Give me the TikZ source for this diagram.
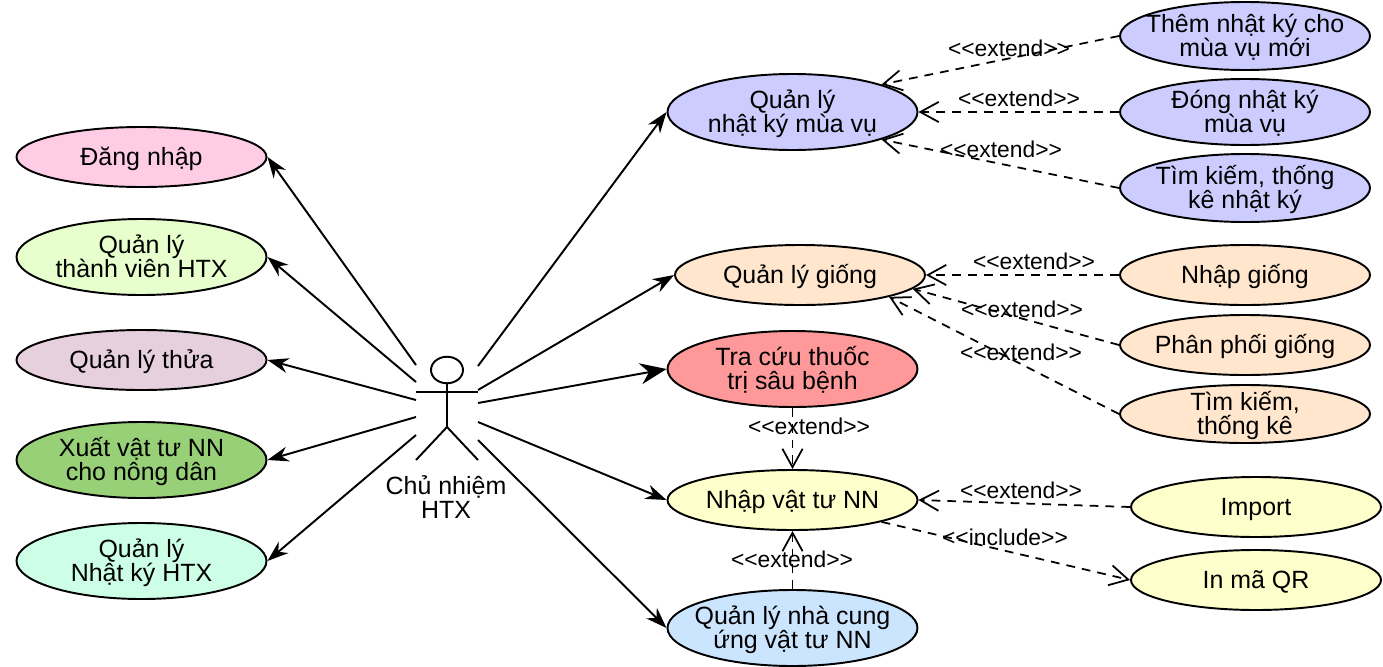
\documentclass[tikz,border=0pt]{standalone}
\usepackage{fontspec}
\setmainfont{Liberation Sans}
\usepackage{xcolor}
\usetikzlibrary{calc,positioning,arrows.meta,shapes.geometric}
\definecolor{mypink}{RGB}{255,204,230}
\definecolor{mylime}{RGB}{230,255,204}
\definecolor{mymauve}{RGB}{230,208,222}
\definecolor{mygreen}{RGB}{151,208,119}
\definecolor{mymint}{RGB}{204,255,230}
\definecolor{myviolet}{RGB}{204,204,255}
\definecolor{mypeach}{RGB}{255,230,204}
\definecolor{myred}{RGB}{255,153,153}
\definecolor{myyellow}{RGB}{255,255,204}
\definecolor{myblue}{RGB}{204,229,255}
\newcommand{\ext}{<{}<{}extend>{}>}
\tikzset{
  uc/.style={draw, ellipse, line width=1.1pt, inner xsep=-20pt, inner ysep=-15pt, minimum width=5cm, minimum height=1.2cm, align=center, font=\fontsize{14.2}{13.7}\selectfont, text depth=0.8pt},
  ucone/.style={uc, text height=12.8pt, text depth=3pt},
  uctall/.style={uc, minimum height=1.52cm},
  assoc/.style={line width=1.1pt, -{Stealth[length=12pt,width=8.5pt]}},
  dep/.style={dashed, dash pattern=on 5pt off 4pt, line width=1pt, -{Straight Barb[length=10.5pt,width=11.5pt,line width=1pt]}},
  stereo/.style={font=\fontsize{13}{15}\selectfont, inner sep=0pt}
}
\begin{document}
\begin{tikzpicture}[x=0.2mm,y=-0.2mm]
  \useasboundingbox (0,0) rectangle (1383,666);

  % left column
  \node[ucone, fill=mypink] (dangnhap) at (141.5,157) {Đăng nhập};
  \node[uctall, fill=mylime] (thanhvien) at (141.5,257) {Quản lý\\thành viên HTX};
  \node[ucone, fill=mymauve] (thua) at (141.5,360) {Quản lý thửa};
  \node[uctall, fill=mygreen] (xuatvt) at (141.5,460) {Xuất vật tư NN\\cho nông dân};
  \node[uctall, fill=mymint] (nhatkyhtx) at (141.5,561) {Quản lý\\Nhật ký HTX};

  % middle column
  \node[uctall, fill=myviolet] (muavu) at (792.5,112) {Quản lý\\nhật ký mùa vụ};
  \node[ucone, fill=mypeach] (giong) at (800,275) {Quản lý giống};
  \node[uctall, fill=myred] (tracuu) at (792.5,369) {Tra cứu thuốc\\trị sâu bệnh};
  \node[ucone, fill=myyellow] (nhapvt) at (792.5,500) {Nhập vật tư NN};
  \node[uctall, fill=myblue] (nhacc) at (792.5,628) {Quản lý nhà cung\\ứng vật tư NN};

  % right column
  \node[uc, minimum height=1.36cm, fill=myviolet] (themnk) at (1245,36) {Thêm nhật ký cho\\mùa vụ mới};
  \node[uc, minimum height=1.32cm, fill=myviolet] (dongnk) at (1245,112) {Đóng nhật ký\\mùa vụ};
  \node[uc, minimum height=1.36cm, fill=myviolet] (timnk) at (1245,188) {Tìm kiếm, thống\\kê nhật ký};
  \node[ucone, fill=mypeach] (nhapgiong) at (1245,275) {Nhập giống};
  \node[ucone, fill=mypeach] (phanphoi) at (1245,345) {Phân phối giống};
  \node[uc, minimum height=1.16cm, fill=mypeach] (timgiong) at (1245,414) {Tìm kiếm,\\thống kê};
  \node[ucone, fill=myyellow] (import) at (1256,507) {Import};
  \node[ucone, fill=myyellow] (inqr) at (1256,580) {In mã QR};

  % actor
  \node[draw, ellipse, line width=1.1pt, inner sep=0pt, minimum width=0.64cm, minimum height=0.53cm] (head) at (447,370) {};
  \coordinate (hip) at (447,427);
  \coordinate (armL) at (416,392);
  \coordinate (armR) at (478,392);
  \coordinate (footL) at (416,460);
  \coordinate (footR) at (478,460);
  \draw[line width=1.1pt] (head.south) -- (hip);
  \draw[line width=1.1pt] (armL) -- (armR);
  \draw[line width=1.1pt] (footL) -- (hip) -- (footR);
  \node[align=center, font=\fontsize{14.2}{13.7}\selectfont] (chunhiem) at (446,497) {Chủ nhiệm\\HTX};

  % free ends beside the actor
  \coordinate (l1) at (416,365);
  \coordinate (l2) at (416,382);
  \coordinate (l3) at (416,400);
  \coordinate (l4) at (416,417);
  \coordinate (l5) at (416,435);
  \coordinate (r1) at (478,366);
  \coordinate (r2) at (478,390);
  \coordinate (r3) at (478,403);
  \coordinate (r4) at (478,422);
  \coordinate (r5) at (478,440);

  \draw[assoc] (l1) -- (dangnhap.east);
  \draw[assoc] (l2) -- (thanhvien.east);
  \draw[assoc] (l3) -- (thua.east);
  \draw[assoc] (l4) -- (xuatvt.east);
  \draw[assoc] (l5) -- (nhatkyhtx.east);
  \draw[assoc] (r1) -- (muavu.west);
  \draw[assoc] (r2) -- (giong.west);
  \draw[assoc, -{Stealth[length=15pt,width=12pt]}] (r3) -- (tracuu.west);
  \draw[assoc] (r4) -- (nhapvt.west);
  \draw[assoc] (r5) -- (nhacc.west);

  % extend and include
  \draw[dep] (themnk.west) -- (muavu.north east);
  \draw[dep] (dongnk.west) -- (muavu.east);
  \draw[dep] (timnk.west) -- (muavu.south east);
  \draw[dep] (nhapgiong.west) -- (giong.east);
  \draw[dep] (phanphoi.west) -- (giong.-7);
  \draw[dep] (timgiong.west) -- (giong.south east);
  \draw[dep] (tracuu.south) -- (nhapvt.north);
  \draw[dep] (nhacc.north) -- (nhapvt.south);
  \draw[dep] (import.west) -- (nhapvt.east);
  \draw[dep] (nhapvt.south east) -- (inqr.west);

  \node[stereo] (ext1) at (1009,48) {\ext};
  \node[stereo] (ext2) at (1019,98) {\ext};
  \node[stereo] (ext3) at (1001,149) {\ext};
  \node[stereo] (ext4) at (1034,261) {\ext};
  \node[stereo] (ext5) at (1022,309) {\ext};
  \node[stereo] (ext6) at (1021,352) {\ext};
  \node[stereo] (ext7) at (809,426) {\ext};
  \node[stereo] (ext8) at (792,559) {\ext};
  \node[stereo] (ext9) at (1021,490) {\ext};
  \node[stereo] (inc1) at (1005,537) {<{}<{}include>{}>};
\end{tikzpicture}
\end{document}
